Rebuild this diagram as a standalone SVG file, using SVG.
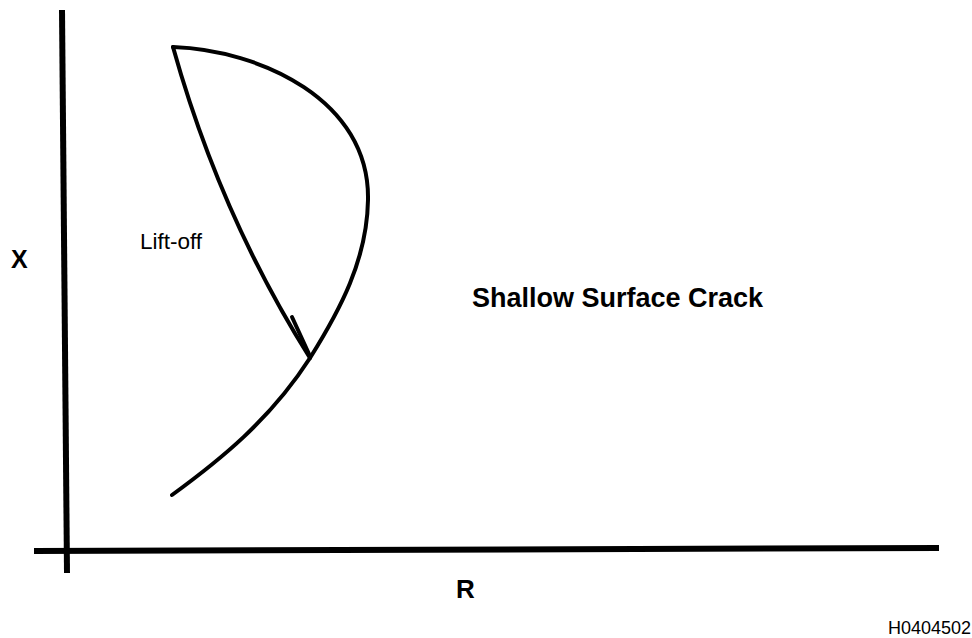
<svg xmlns="http://www.w3.org/2000/svg" width="972" height="638" viewBox="0 0 972 638">
<style>
.ax{stroke:#000;stroke-width:6;fill:none}
.cv{stroke:#000;stroke-width:4;fill:none;stroke-linecap:round}
.b{font-family:"Liberation Sans",Arial,sans-serif;font-weight:bold;fill:#000}
.n{font-family:"Liberation Sans",Arial,sans-serif;fill:#000}
</style>
<rect width="972" height="638" fill="#fff"/>
<g id="axes">
<line class="ax" x1="62" y1="10" x2="67" y2="573"/>
<line class="ax" x1="34" y1="551" x2="939" y2="548"/>
</g>
<g id="connectors">
<path id="crack-curve" class="cv" d="M173,47 C260,50 370,100 368,200 C367,260 340,310 310,358 C270,420 220,460 172,495"/>
<path id="lift-off-line" class="cv" d="M173,47 Q220,215 310,358"/>
<line class="cv" x1="292" y1="317" x2="309" y2="354"/>
</g>
<g id="labels">
<text class="b" x="11" y="268" font-size="25">X</text>
<text class="b" x="456" y="598" font-size="26">R</text>
<text class="b" x="472" y="307" font-size="27">Shallow Surface Crack</text>
<text class="n" x="140" y="249" font-size="22.5">Lift-off</text>
<text class="n" x="888" y="634" font-size="18">H0404502</text>
</g>
</svg>
